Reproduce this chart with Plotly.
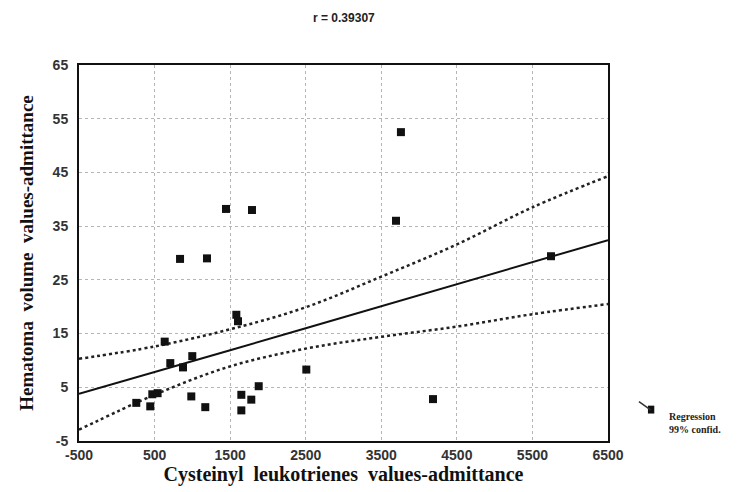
import plotly.graph_objects as go

# Scatter data
cys_lt = [3760, 3695, 1445, 1789, 837, 1194, 5746, 1582, 1604, 634, 708, 876, 999,
          2508, 1878, 470, 540, 258, 443, 986, 1171, 1648, 1780, 1648, 4184]
hematoma = [52.5, 36.0, 38.2, 38.0, 28.9, 29.0, 29.4, 18.5, 17.3, 13.5, 9.5, 8.7, 10.8,
            8.3, 5.2, 3.7, 3.9, 2.1, 1.45, 3.3, 1.3, 3.6, 2.7, 0.7, 2.8]

# Regression line and 99% confidence band
fit_x = [-500, 500, 1500, 2500, 3500, 4500, 5500, 6500]
fit_y = [3.8, 7.8, 11.9, 16.0, 20.1, 24.1, 28.2, 32.4]
ci_upper = [10.3, 12.6, 15.8, 19.9, 25.6, 31.6, 38.5, 44.3]
ci_lower = [-2.9, 3.6, 8.9, 12.2, 14.4, 16.3, 18.6, 20.5]

x_ticks = [-500, 500, 1500, 2500, 3500, 4500, 5500, 6500]
y_ticks = [-5, 5, 15, 25, 35, 45, 55, 65]

fig = go.Figure()
fig.add_trace(go.Scatter(x=fit_x, y=ci_upper, mode="lines", line_shape="spline",
                         line=dict(color="#222", width=2.5, dash="3px,3px"), showlegend=False))
fig.add_trace(go.Scatter(x=fit_x, y=ci_lower, mode="lines", line_shape="spline",
                         line=dict(color="#222", width=2.5, dash="3px,3px"), showlegend=False))
fig.add_trace(go.Scatter(x=fit_x, y=fit_y, mode="lines",
                         line=dict(color="#111", width=2), showlegend=False))
fig.add_trace(go.Scatter(x=cys_lt, y=hematoma, mode="markers",
                         marker=dict(symbol="square", size=8, color="#111"), showlegend=False))

axis_common = dict(showline=True, linecolor="#111", linewidth=2, mirror=True,
                   showgrid=True, gridcolor="#b5b5b5", griddash="dot", gridwidth=1,
                   zeroline=False, ticks="",
                   tickfont=dict(family="Liberation Sans", size=14, color="#333"))

fig.update_xaxes(range=[-500, 6500], tickvals=x_ticks,
                 ticktext=["<b>%d</b>" % v for v in x_ticks],
                 title=dict(text="<b>Cysteinyl  leukotrienes  values-admittance</b>",
                            font=dict(family="Liberation Serif", size=20, color="#111"), standoff=4),
                 **axis_common)
fig.update_yaxes(range=[-5, 65], tickvals=y_ticks,
                 ticktext=["<b>%d</b>" % v for v in y_ticks], ticklabelstandoff=6,
                 title=dict(text="<b>Hematoma  volume  values-admittance</b>",
                            font=dict(family="Liberation Serif", size=19, color="#111"), standoff=14),
                 **axis_common)

fig.add_annotation(text="<b>r = 0.39307</b>", xref="paper", yref="paper", x=0.5, y=1.0,
                   yshift=56, showarrow=False, font=dict(family="Liberation Sans", size=12, color="#222"))

# legend box text
fig.add_annotation(text="<b>Regression</b><br><b>99% confid.</b>", xref="paper", yref="paper",
                   x=1.0, y=0.0, xshift=59, yshift=4, xanchor="left", yanchor="bottom",
                   align="left", showarrow=False,
                   font=dict(family="Liberation Serif", size=10, color="#222"))
fig.add_shape(type="rect", xref="paper", yref="paper", x0=1.0755, x1=1.0875, y0=0.073, y1=0.094,
              fillcolor="#111", line=dict(width=0))
fig.add_shape(type="line", xref="paper", yref="paper", x0=1.0585, x1=1.0805, y0=0.105, y1=0.083,
              line=dict(color="#333", width=1.5))

fig.update_layout(width=749, height=492, margin=dict(l=71, r=149, t=57, b=59),
                  plot_bgcolor="white", paper_bgcolor="white")

fig.write_html("out.html")
